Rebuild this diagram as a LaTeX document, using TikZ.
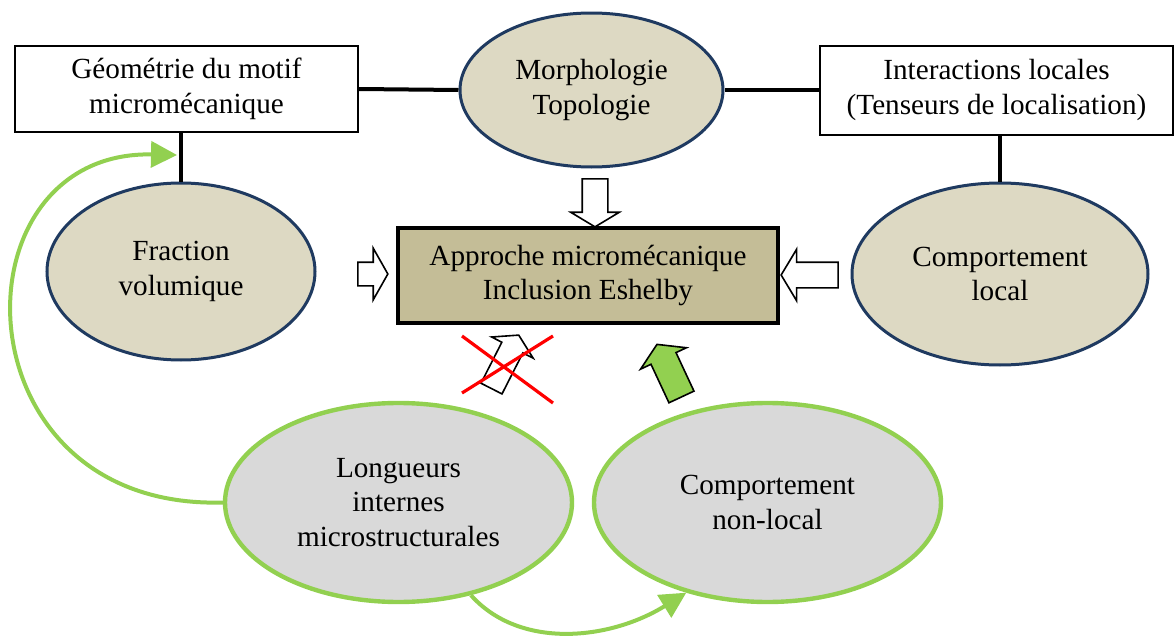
\documentclass[tikz,border=0pt]{standalone}
\usepackage{fontspec}
\setmainfont{Liberation Serif}
\usetikzlibrary{shapes.geometric, shapes.arrows, arrows.meta}

\definecolor{beige}{HTML}{DDD9C3}
\definecolor{kaki}{HTML}{C4BD97}
\definecolor{marine}{HTML}{1F3A60}
\definecolor{grisclair}{HTML}{D9D9D9}
\definecolor{vert}{HTML}{92D050}

\tikzset{
    boite/.style={rectangle, draw, line width=1pt, fill=white, align=center},
    bulle/.style={ellipse, draw=marine, line width=1.5pt, fill=beige, align=center, inner sep=0pt},
    bulleverte/.style={ellipse, draw=vert, line width=2.2pt, fill=grisclair, align=center, inner sep=0pt},
    lien/.style={line width=2pt},
    courbe/.style={draw=vert, line width=2pt, -{Triangle[length=13pt, width=13pt]}},
    fleche/.style={single arrow, draw, line width=0.8pt, fill=white, inner xsep=0pt, single arrow tip angle=118},
    croix/.style={draw=red, line width=1.6pt}
}

\begin{document}
\begin{tikzpicture}[x=0.5pt, y=-0.5pt, font=\fontsize{14.6}{17.3}\selectfont]
    \useasboundingbox (0,0) rectangle (1175,637);

    \node (geo) [boite, minimum width=171.5pt, minimum height=43pt] at (186.5,89) {G\'eom\'etrie du motif\\microm\'ecanique};
    \node (morph) [bulle, minimum width=131.5pt, minimum height=77pt] at (591.5,90) {Morphologie\\Topologie};
    \node (inter) [boite, minimum width=176.5pt, minimum height=44.5pt] at (996.5,90) {Interactions locales\\(Tenseurs de localisation)};
    \node (frac) [bulle, minimum width=134pt, minimum height=88.5pt] at (181,271.5) {Fraction\\volumique};
    \node (cloc) [bulle, minimum width=148pt, minimum height=91pt] at (1000,274) {Comportement\\local};
    \node (appr) [rectangle, draw, line width=2pt, fill=kaki, align=center, minimum width=190pt, minimum height=47.5pt] at (588,275.5) {Approche microm\'ecanique\\Inclusion Eshelby};
    \node (long) [bulleverte, minimum width=173.5pt, minimum height=99.5pt] at (398.5,502.5) {Longueurs\\internes\\microstructurales};
    \node (nonl) [bulleverte, minimum width=173.5pt, minimum height=99.5pt] at (767.5,502.5) {Comportement\\non-local};

    % fleches creuses vers l'approche
    \node (flbas) [fleche, rotate=270, inner ysep=6pt, single arrow head extend=5.75pt, minimum height=24pt] at (595,199) {};
    \node (flgauche) [fleche, inner ysep=5.5pt, single arrow head extend=7pt, single arrow tip angle=121, minimum height=15pt] at (369.5,274) {};
    \node (fldroite) [fleche, rotate=180, inner ysep=6pt, single arrow head extend=6.5pt, minimum height=28.5pt] at (813.5,275) {};
    \node (flbarre) [fleche, rotate=63, inner ysep=5.5pt, single arrow head extend=5.75pt, minimum height=30pt] at (503.5,365) {};
    \node (flvert) [fleche, fill=vert, rotate=115, inner ysep=6.5pt, single arrow head extend=5.75pt, single arrow tip angle=117, minimum height=29pt] at (671,374.5) {};

    \draw [croix] (462,336) -- (553,403);
    \draw [croix] (462,393) -- (553,336);

    \draw [lien] (geo.east) -- (morph.west);
    \draw [lien] (morph.east) -- (inter.west);
    \draw [lien] (frac.north) -- (frac.north |- geo.south);
    \draw [lien] (cloc.north) -- (cloc.north |- inter.south);

    \coordinate (cible) at (177,155);
    \draw [courbe] (long.west) .. controls (-45,510) and (-50,150) .. (cible);
    \draw [courbe] (long.-52) .. controls (520,650) and (610,640) .. (nonl.228);
\end{tikzpicture}
\end{document}
